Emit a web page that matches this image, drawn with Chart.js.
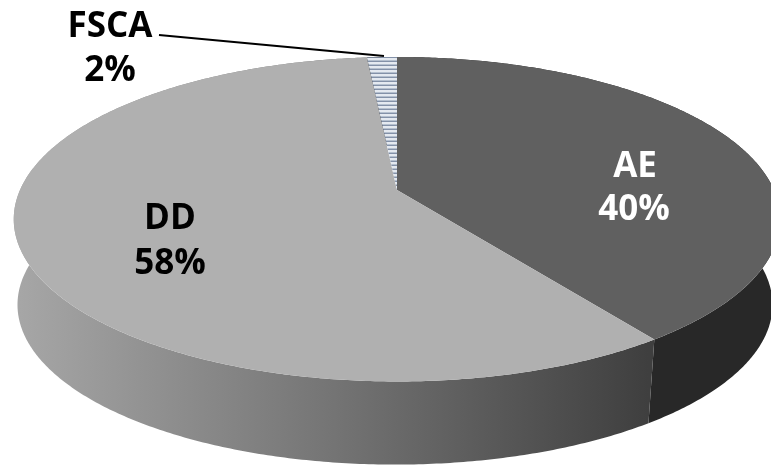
<!DOCTYPE html>
<html lang="en">
<head>
    <meta charset="UTF-8">
    <title>AE DD FSCA pie</title>
    <script src="https://cdn.jsdelivr.net/npm/chart.js"></script>
    <style>
        html, body { margin: 0; padding: 0; background: #fff; overflow: hidden; }
        canvas { display: block; }
    </style>
</head>
<body>
    <canvas id="pieChart" width="771" height="468"></canvas>

    <script>
        const categories = ['AE', 'DD', 'FSCA'];
        const shares = [40.1, 58.4, 1.5];

        // Perspective of the tilted disc
        const apexX = 397, apexY = 190;
        const spanX = 377, spanY = 157, tilt = 0.18;
        const depthX = -2, depthY = 86, depthScale = 0.985;

        function project(angle, lower) {
            const u = Math.cos(angle), v = Math.sin(angle);
            const w = 1 - tilt * v;
            const x = spanX * u / w, y = spanY * v / w;
            if (lower) return [apexX + depthX + x * depthScale, apexY + depthY + y * depthScale];
            return [apexX + x, apexY + y];
        }

        function arcPoints(start, end, lower) {
            const steps = Math.max(2, Math.ceil((end - start) / 0.01));
            const pts = [];
            for (let i = 0; i <= steps; i++) {
                pts.push(project(start + (end - start) * i / steps, lower));
            }
            return pts;
        }

        function stripes(ctx) {
            const tile = document.createElement('canvas');
            tile.width = 4; tile.height = 4;
            const t = tile.getContext('2d');
            t.fillStyle = '#e4e9f0';
            t.fillRect(0, 0, 4, 4);
            t.fillStyle = '#b4bfce';
            t.fillRect(0, 0, 4, 1);
            t.fillStyle = '#8391a8';
            t.fillRect(0, 1, 4, 1);
            return ctx.createPattern(tile, 'repeat');
        }

        const disc3d = {
            id: 'disc3d',
            beforeDatasetDraw(chart) {
                const ctx = chart.ctx;
                const arcs = chart.getDatasetMeta(0).data;

                // Side wall, only the part below the top face stays visible
                arcs.forEach((arc, i) => {
                    const top = arcPoints(arc.startAngle, arc.endAngle, false);
                    const low = arcPoints(arc.startAngle, arc.endAngle, true).reverse();
                    ctx.beginPath();
                    top.concat(low).forEach((p, n) => n ? ctx.lineTo(p[0], p[1]) : ctx.moveTo(p[0], p[1]));
                    ctx.closePath();
                    if (categories[i] === 'DD') {
                        const g = ctx.createLinearGradient(20, 0, 648, 0);
                        g.addColorStop(0, '#a6a6a6');
                        g.addColorStop(0.5, '#747474');
                        g.addColorStop(1, '#3f3f3f');
                        ctx.fillStyle = g;
                    } else {
                        ctx.fillStyle = '#282828';
                    }
                    ctx.fill();
                });

                // Top face
                arcs.forEach((arc, i) => {
                    ctx.beginPath();
                    ctx.moveTo(apexX, apexY);
                    arcPoints(arc.startAngle, arc.endAngle, false).forEach(p => ctx.lineTo(p[0], p[1]));
                    ctx.closePath();
                    ctx.fillStyle = categories[i] === 'FSCA' ? stripes(ctx) : arc.options.backgroundColor;
                    ctx.fill();
                });
                return false;
            },
            afterDatasetsDraw(chart) {
                const ctx = chart.ctx;
                // Leader line for the small slice
                ctx.beginPath();
                ctx.moveTo(159, 35);
                ctx.lineTo(384, 56);
                ctx.strokeStyle = '#000';
                ctx.lineWidth = 2;
                ctx.stroke();

                ctx.font = 'bold 35px "Open Sans"';
                ctx.textAlign = 'center';
                ctx.textBaseline = 'middle';
                const spots = [[635, 167, 634, 210, '#fff'], [170, 219, 170, 264, '#000'], [110, 27, 110, 71, '#000']];
                categories.forEach((name, i) => {
                    const s = spots[i];
                    ctx.fillStyle = s[4];
                    ctx.fillText(name, s[0], s[1]);
                    ctx.fillText(Math.round(shares[i]) + '%', s[2], s[3]);
                });
            }
        };

        new Chart(document.getElementById('pieChart').getContext('2d'), {
            type: 'pie',
            data: {
                labels: categories,
                datasets: [{
                    data: shares,
                    backgroundColor: ['#606060', '#b0b0b0', '#e4e9f0'],
                    borderWidth: 0
                }]
            },
            options: {
                responsive: false,
                animation: false,
                plugins: { legend: { display: false }, tooltip: { enabled: false } }
            },
            plugins: [disc3d]
        });
    </script>
</body>
</html>
